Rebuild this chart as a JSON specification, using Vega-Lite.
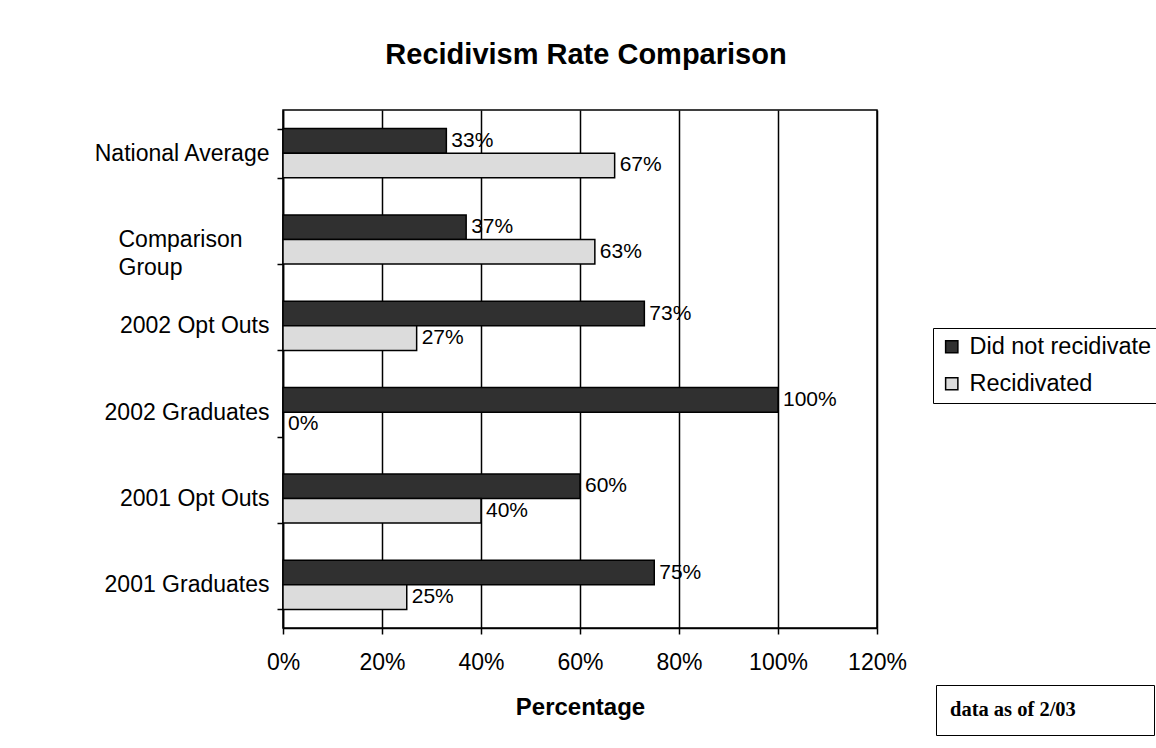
{
  "$schema": "https://vega.github.io/schema/vega-lite/v6.json",
  "width": 594,
  "height": 518,
  "autosize": {"type": "none"},
  "padding": {"left": 283, "top": 110, "right": 279, "bottom": 120},
  "background": "white",
  "config": {
    "font": "Liberation Sans",
    "view": {"stroke": "black", "strokeWidth": 1.5}
  },
  "title": {
    "text": "Recidivism Rate Comparison",
    "fontSize": 29,
    "fontWeight": "bold",
    "anchor": "middle",
    "frame": "group",
    "baseline": "alphabetic",
    "offset": 6,
    "dx": 6,
    "color": "black"
  },
  "data": {
    "values": [
      {"group": "National Average", "series": "Did not recidivate", "value": 0.33},
      {"group": "National Average", "series": "Recidivated", "value": 0.67},
      {"group": "Comparison Group", "series": "Did not recidivate", "value": 0.37},
      {"group": "Comparison Group", "series": "Recidivated", "value": 0.63},
      {"group": "2002 Opt Outs", "series": "Did not recidivate", "value": 0.73},
      {"group": "2002 Opt Outs", "series": "Recidivated", "value": 0.27},
      {"group": "2002 Graduates", "series": "Did not recidivate", "value": 1.0},
      {"group": "2002 Graduates", "series": "Recidivated", "value": 0.0},
      {"group": "2001 Opt Outs", "series": "Did not recidivate", "value": 0.6},
      {"group": "2001 Opt Outs", "series": "Recidivated", "value": 0.4},
      {"group": "2001 Graduates", "series": "Did not recidivate", "value": 0.75},
      {"group": "2001 Graduates", "series": "Recidivated", "value": 0.25}
    ]
  },
  "layer": [
    {
      "mark": {"type": "bar", "stroke": "black", "strokeWidth": 1.5},
      "encoding": {
        "y": {
          "field": "group",
          "type": "nominal",
          "sort": null,
          "scale": {"paddingInner": 0.43, "paddingOuter": 0.215},
          "axis": {
            "title": null,
            "labelFontSize": 23,
            "labelColor": "black",
            "labelPadding": {"condition": {"test": "datum.value == 'Comparison Group'", "value": 159}, "value": 8},
            "labelAlign": {"condition": {"test": "datum.value == 'Comparison Group'", "value": "left"}, "value": "right"},
            "labelLineHeight": 28,
            "labelLimit": 300,
            "labelExpr": "datum.value == 'Comparison Group' ? ['Comparison', 'Group'] : datum.value",
            "tickBand": "extent",
            "tickSize": 6,
            "tickColor": "black",
            "tickWidth": 1.5,
            "domainColor": "black",
            "domainWidth": 1.5,
            "grid": false
          }
        },
        "yOffset": {"field": "series", "type": "nominal", "sort": null},
        "x": {
          "field": "value",
          "type": "quantitative",
          "scale": {"domain": [0, 1.2]},
          "axis": {
            "format": "%",
            "values": [0, 0.2, 0.4, 0.6, 0.8, 1.0, 1.2],
            "grid": true,
            "gridColor": "black",
            "gridWidth": 1.5,
            "gridOpacity": 1,
            "domainColor": "black",
            "domainWidth": 1.5,
            "tickColor": "black",
            "tickWidth": 1.5,
            "tickSize": 6,
            "labelFontSize": 23,
            "labelColor": "black",
            "labelPadding": 17,
            "labelFlush": false,
            "title": "Percentage",
            "titleFontSize": 24,
            "titleFontWeight": "bold",
            "titleColor": "black",
            "titlePadding": 21
          }
        },
        "fill": {
          "field": "series",
          "type": "nominal",
          "scale": {"domain": ["Did not recidivate", "Recidivated"], "range": ["#303030", "#dcdcdc"]},
          "legend": {
            "orient": "none",
            "legendX": 650,
            "legendY": 218,
            "title": null,
            "strokeColor": "black",
            "fillColor": "white",
            "padding": 7,
            "labelFontSize": 23.5,
            "labelColor": "black",
            "labelOffset": 6,
            "labelLimit": 400,
            "rowPadding": 12,
            "symbolType": "square",
            "symbolSize": 150,
            "symbolStrokeColor": "black",
            "symbolStrokeWidth": 1.5
          }
        }
      }
    },
    {
      "mark": {"type": "text", "align": "left", "baseline": "middle", "dx": 5, "fontSize": 21, "color": "black"},
      "encoding": {
        "y": {"field": "group", "type": "nominal", "sort": null},
        "yOffset": {"field": "series", "type": "nominal", "sort": null},
        "x": {"field": "value", "type": "quantitative"},
        "text": {"field": "value", "type": "quantitative", "format": ".0%"}
      }
    },
    {
      "data": {"values": [{"note": "data as of 2/03"}]},
      "mark": {"type": "point", "opacity": 0},
      "encoding": {
        "shape": {
          "field": "note",
          "type": "nominal",
          "legend": {
            "orient": "none",
            "legendX": 653,
            "legendY": 575,
            "title": "data as of 2/03",
            "titleOrient": "left",
            "titleFont": "Liberation Serif",
            "titleFontSize": 20.5,
            "titleFontWeight": "bold",
            "titleColor": "black",
            "titlePadding": 5,
            "titleLimit": 400,
            "strokeColor": "black",
            "fillColor": "white",
            "padding": 14,
            "symbolSize": 1,
            "symbolOpacity": 0,
            "labelExpr": "'xxx'",
            "labelFontSize": 22,
            "labelOpacity": 0,
            "labelOffset": 4
          }
        }
      }
    },
    {
      "data": {"values": [{"frame": "page"}]},
      "mark": {"type": "point", "opacity": 0},
      "encoding": {
        "fillOpacity": {
          "field": "frame",
          "type": "nominal",
          "scale": {"range": [0, 0]},
          "legend": {
            "orient": "none",
            "legendX": -273,
            "legendY": -103,
            "title": null,
            "padding": 0,
            "strokeColor": "black",
            "symbolType": "circle",
            "symbolSize": 544644,
            "symbolOpacity": 0,
            "labelExpr": "'xxxxxxxxxxxxxxxxxxxxxxxxxxxxxxxxxxxxxxxxxxxxxxxxxxxxxxxxxxxxxxxxxxxxxxxxxxxxxxxxxxxxxxxxxxxxxxxxxxxxxxxxxxxxxxxxxxxxx'",
            "labelFontSize": 10,
            "labelOpacity": 0,
            "labelOffset": 0,
            "labelLimit": 402
          }
        }
      }
    }
  ]
}
